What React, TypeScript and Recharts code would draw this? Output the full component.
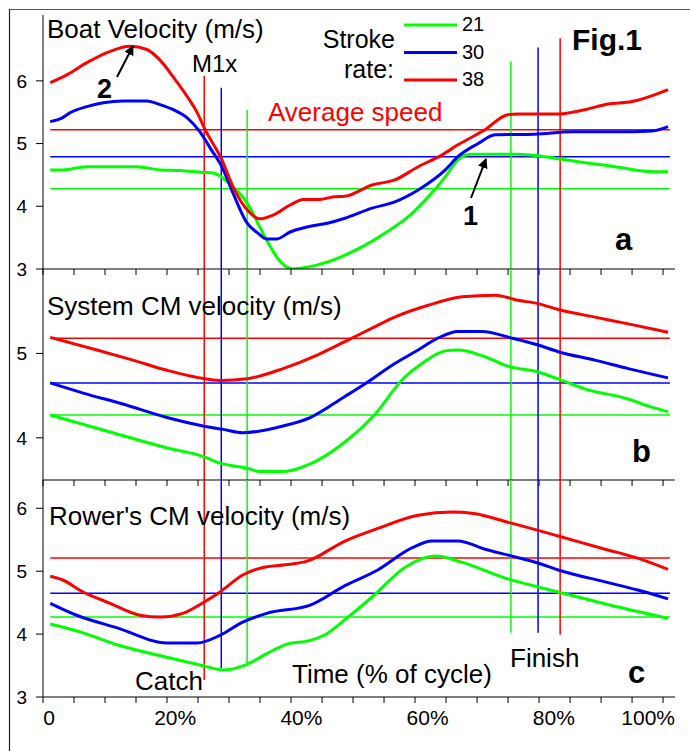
import { LineChart, Line, XAxis, YAxis, ReferenceLine } from 'recharts';

type P = [number, number];

// time (% of cycle), velocity (m/s)
const boat21: P[] = [[0.2, 4.58], [2.2, 4.58], [6, 4.63], [13.9, 4.63], [17.6, 4.58], [20.8, 4.57], [24.4, 4.54], [26, 4.53], [28.5, 4.37], [31.4, 4.05], [33.4, 3.67], [34.5, 3.46], [36.1, 3.19], [37.7, 3.03], [38.7, 3.0], [40.9, 3.03], [44.1, 3.11], [46.9, 3.22], [50.1, 3.38], [53.2, 3.57], [56.9, 3.83], [60.1, 4.15], [62.8, 4.47], [64.8, 4.74], [66.8, 4.83], [74.3, 4.83], [78.6, 4.79], [83.8, 4.71], [89.2, 4.64], [96, 4.55], [98.1, 4.55]];
const boat30: P[] = [[0.2, 5.35], [2.1, 5.41], [3.3, 5.49], [6, 5.59], [8.6, 5.65], [11.7, 5.68], [15.5, 5.68], [17.6, 5.62], [19.7, 5.54], [21.9, 5.41], [23.9, 5.19], [25.6, 4.92], [27.4, 4.63], [29.2, 4.2], [31.4, 3.73], [33, 3.58], [34.5, 3.48], [36.1, 3.48], [38.2, 3.59], [40.9, 3.67], [44.1, 3.73], [46.9, 3.81], [51.2, 3.97], [54.8, 4.07], [58.5, 4.26], [62.8, 4.58], [64.8, 4.79], [68, 5.0], [70.7, 5.14], [77, 5.15], [82.9, 5.19], [92.4, 5.19], [95.6, 5.2], [98.1, 5.27]];
const boat38: P[] = [[0.2, 5.97], [2.9, 6.1], [6, 6.29], [9.7, 6.47], [12.8, 6.55], [15.5, 6.5], [17.6, 6.33], [19.7, 6.06], [21.9, 5.75], [23.5, 5.49], [24.6, 5.25], [27.4, 4.74], [29.2, 4.3], [31.7, 3.91], [33.4, 3.8], [35.5, 3.86], [38.2, 4.02], [40.3, 4.11], [42.9, 4.11], [45, 4.15], [46.9, 4.16], [51.2, 4.34], [54.8, 4.42], [58.5, 4.63], [62.3, 4.82], [64.8, 4.98], [69.1, 5.22], [72.7, 5.46], [74.3, 5.47], [80.7, 5.47], [84.9, 5.54], [88.6, 5.63], [92.4, 5.67], [94.9, 5.74], [98.1, 5.86]];

const system21: P[] = [[0.2, 4.27], [10.1, 4.06], [18.7, 3.88], [24.4, 3.78], [27.1, 3.7], [31.4, 3.64], [33.4, 3.6], [37.1, 3.6], [41.4, 3.69], [46.9, 3.95], [51.2, 4.24], [56.4, 4.72], [59.1, 4.88], [62.8, 5.03], [64.8, 5.04], [69.1, 4.96], [72.7, 4.85], [77.5, 4.78], [81.3, 4.68], [84.9, 4.58], [91.8, 4.46], [95.6, 4.36], [98.1, 4.31]];
const system30: P[] = [[0.2, 4.65], [5.4, 4.53], [11.7, 4.4], [18.7, 4.24], [24.4, 4.14], [27.6, 4.1], [30.7, 4.06], [37.1, 4.14], [41.4, 4.24], [46.9, 4.49], [50.1, 4.64], [54.8, 4.88], [58.5, 5.04], [61.6, 5.18], [64.8, 5.26], [68.6, 5.26], [73.4, 5.18], [77.5, 5.1], [80.7, 5.02], [86.5, 4.92], [91.8, 4.82], [98.1, 4.71]];
const system38: P[] = [[0.2, 5.19], [7.6, 5.04], [13.3, 4.92], [18.7, 4.8], [23.9, 4.71], [27.1, 4.68], [31.4, 4.7], [37.1, 4.82], [42.5, 4.98], [46.9, 5.14], [51.2, 5.3], [54.8, 5.43], [60.1, 5.57], [65.5, 5.67], [70.7, 5.69], [74.3, 5.63], [77.5, 5.59], [80.7, 5.52], [86.5, 5.43], [91.8, 5.35], [98.1, 5.25]];

const rower21: P[] = [[0.2, 4.16], [5.4, 4.02], [10.8, 3.83], [19.2, 3.62], [23.9, 3.51], [27.6, 3.43], [31.4, 3.52], [34.5, 3.69], [37.7, 3.84], [41.4, 3.9], [44.1, 4.01], [46.9, 4.23], [51.2, 4.59], [56.4, 5.06], [61.2, 5.24], [65.5, 5.14], [72.3, 4.89], [77.5, 4.75], [83.8, 4.59], [90.2, 4.43], [98.1, 4.25]];
const rower30: P[] = [[0.2, 4.49], [4.4, 4.3], [10.8, 4.1], [18.7, 3.86], [23.5, 3.86], [27.1, 3.98], [30.7, 4.19], [34.5, 4.33], [41.4, 4.46], [46.9, 4.77], [52.1, 5.02], [57.5, 5.37], [60.7, 5.48], [64.8, 5.48], [69.1, 5.35], [73.4, 5.24], [77.5, 5.13], [80.7, 5.02], [88.1, 4.83], [93.3, 4.7], [98.1, 4.56]];
const rower38: P[] = [[0.2, 4.92], [2.2, 4.86], [5.4, 4.67], [9.7, 4.49], [14.4, 4.3], [17.6, 4.27], [21.2, 4.33], [24.6, 4.51], [27.1, 4.67], [30.7, 4.94], [33.9, 5.06], [38.2, 5.11], [40.9, 5.16], [46.9, 5.48], [52.1, 5.68], [58.5, 5.89], [63.9, 5.94], [67, 5.92], [73.4, 5.76], [80.7, 5.56], [88.1, 5.35], [92.9, 5.22], [98.1, 5.03]];

// stroke rates 21, 30, 38
const rates = ['21', '30', '38'];
const colors = ['#00ff00', '#0000ff', '#ff0000'];
const catchAt = [31.4, 27.3, 24.6];
const finishAt = [73.2, 77.5, 81.0];
const catchTopA = [5.54, 5.89, 6.08];
const finishTopA = [6.31, 6.53, 6.68];
const catchBottomC = [3.54, 3.46, 3.27];
const finishBottomC = [4.02, 4.02, 3.99];
const avgBoat = [4.28, 4.79, 5.22];
const avgSystem = [4.27, 4.65, 5.18];
const avgRower = [4.27, 4.65, 5.21];
const avgFrom = 0.2;
const avgTo = 98.4;

const X_MIN = -0.95;
const X_MAX = 99.2;
const minorTicks = Array.from({ length: 21 }, (_, k) => X_MIN + k * 4.913);
const xLabels = [0, 20, 40, 60, 80, X_MAX];

const FONT = '"Liberation Sans", Arial, sans-serif';
const toPts = (a: P[]) => a.map(([t, v]) => ({ t, v }));

const LabelTick = (props: any) => {
  const { x, y, payload } = props;
  const last = payload.value >= X_MAX;
  const txt = payload.value === 0 ? '0' : last ? '100%' : `${payload.value}%`;
  return (
    <text x={x} y={y} dy="0.71em" textAnchor={last ? 'end' : 'middle'} fontSize={21} fontFamily={FONT} fill="#000">
      {txt}
    </text>
  );
};

interface PanelProps {
  top: number;
  marginTop: number;
  plotHeight: number;
  domain: [number, number];
  yTicks: number[];
  series: P[][];
  avg: number[];
  catchTop?: number[];
  finishTop?: number[];
  catchBottom?: number[];
  finishBottom?: number[];
  labels?: boolean;
}

function Panel({ top, marginTop, plotHeight, domain, yTicks, series, avg, catchTop, finishTop, catchBottom, finishBottom, labels }: PanelProps) {
  const axisH = labels ? 54 : 7;
  const padBottom = labels ? 0 : 6;
  const height = marginTop + plotHeight + axisH + padBottom;
  const vLine = (x: number, y1: number | undefined, y2: number | undefined, c: string, key: string) => (
    <ReferenceLine
      key={key}
      segment={[{ x, y: y1 ?? domain[1] }, { x, y: y2 ?? domain[0] }]}
      stroke={c}
      strokeWidth={1.5}
    />
  );
  return (
    <div style={{ position: 'absolute', left: 0, top: top - marginTop }}>
      <LineChart width={690} height={height} margin={{ top: marginTop, right: 15, bottom: padBottom, left: 0 }}>
        <XAxis
          dataKey="t"
          type="number"
          domain={[X_MIN, X_MAX]}
          allowDataOverflow
          ticks={minorTicks}
          interval={0}
          tick={() => <g />}
          tickSize={6}
          height={labels ? 1 : 7}
          stroke="#000"
        />
        {labels && (
          <XAxis
            xAxisId="lab"
            dataKey="t"
            type="number"
            domain={[X_MIN, X_MAX]}
            allowDataOverflow
            ticks={xLabels}
            interval={0}
            axisLine={false}
            tickLine={false}
            tickSize={0}
            tickMargin={12}
            tick={<LabelTick />}
            height={53}
          />
        )}
        <YAxis
          type="number"
          domain={domain}
          allowDataOverflow
          ticks={yTicks}
          interval={0}
          width={43}
          tickSize={7}
          tickMargin={9}
          stroke="#000"
          tick={{ fontSize: 19, fontFamily: FONT, fill: '#000' }}
        />
        {avg.map((v, i) => (
          <ReferenceLine key={'h' + i} segment={[{ x: avgFrom, y: v }, { x: avgTo, y: v }]} stroke={colors[i]} strokeWidth={1.5} />
        ))}
        {catchAt.map((x, i) => vLine(x, catchTop?.[i], catchBottom?.[i], colors[i], 'c' + i))}
        {finishAt.map((x, i) => vLine(x, finishTop?.[i], finishBottom?.[i], colors[i], 'f' + i))}
        {series.map((s, i) => (
          <Line
            key={rates[i]}
            data={toPts(s)}
            dataKey="v"
            type="monotone"
            stroke={colors[i]}
            strokeWidth={3}
            dot={false}
            activeDot={false}
            isAnimationActive={false}
          />
        ))}
      </LineChart>
    </div>
  );
}

export default function App() {
  const t = { fontFamily: FONT, fill: '#000' };
  return (
    <div style={{ position: 'absolute', left: 0, top: 0, width: 690, height: 751, background: '#fff', overflow: 'hidden' }}>
      <Panel top={15} marginTop={15} plotHeight={254} domain={[3, 7.05]} yTicks={[3, 4, 5, 6]}
        series={[boat21, boat30, boat38]} avg={avgBoat} catchTop={catchTopA} finishTop={finishTopA} />
      <Panel top={269} marginTop={0} plotHeight={211} domain={[3.5, 6]} yTicks={[4, 5]}
        series={[system21, system30, system38]} avg={avgSystem} />
      <Panel top={480} marginTop={0} plotHeight={217} domain={[3, 6.45]} yTicks={[3, 4, 5, 6]}
        series={[rower21, rower30, rower38]} avg={avgRower} catchBottom={catchBottomC} finishBottom={finishBottomC} labels />
      <svg width={690} height={751} style={{ position: 'absolute', left: 0, top: 0, pointerEvents: 'none' }}>
        <defs>
          <marker id="head" viewBox="0 0 10 10" refX="9" refY="5" markerWidth="5" markerHeight="5" orient="auto">
            <path d="M0,0 L10,5 L0,10 z" fill="#000" />
          </marker>
        </defs>
        <line x1={9} y1={9.5} x2={690} y2={9.5} stroke="#555" strokeWidth={1.2} />
        <line x1={9.5} y1={9} x2={9.5} y2={751} stroke="#222" strokeWidth={1.2} />
        <text x={47} y={38} fontSize={26} {...t}>Boat Velocity (m/s)</text>
        <text x={192} y={72} fontSize={24} {...t}>M1x</text>
        <text x={395} y={48} fontSize={25} textAnchor="end" {...t}>Stroke</text>
        <text x={394} y={78} fontSize={25} textAnchor="end" {...t}>rate:</text>
        {rates.map((r, i) => (
          <g key={r}>
            <line x1={404} x2={457} y1={25 + i * 27.5} y2={25 + i * 27.5} stroke={colors[i]} strokeWidth={3} />
            <text x={462} y={31 + i * 27.5} fontSize={20} {...t}>{r}</text>
          </g>
        ))}
        <text x={572} y={50} fontSize={30} fontWeight="bold" {...t}>Fig.1</text>
        <text x={268} y={121} fontSize={26} fontFamily={FONT} fill="#ff0000">Average speed</text>
        <text x={615} y={250} fontSize={31} fontWeight="bold" {...t}>a</text>
        <text x={463} y={225} fontSize={27} fontWeight="bold" {...t}>1</text>
        <text x={97} y={98} fontSize={27} fontWeight="bold" {...t}>2</text>
        <line x1={471} y1={198} x2={486} y2={159} stroke="#000" strokeWidth={2} markerEnd="url(#head)" />
        <line x1={117} y1={77} x2={133} y2={46} stroke="#000" strokeWidth={2} markerEnd="url(#head)" />
        <text x={47} y={315} fontSize={26} {...t}>System CM velocity (m/s)</text>
        <text x={632} y={462} fontSize={31} fontWeight="bold" {...t}>b</text>
        <text x={49} y={525} fontSize={26} {...t}>Rower's CM velocity (m/s)</text>
        <text x={292} y={683} fontSize={26} {...t}>Time (% of cycle)</text>
        <text x={135} y={690} fontSize={26} {...t}>Catch</text>
        <text x={510} y={667} fontSize={26} {...t}>Finish</text>
        <text x={628} y={683} fontSize={31} fontWeight="bold" {...t}>c</text>
      </svg>
    </div>
  );
}
